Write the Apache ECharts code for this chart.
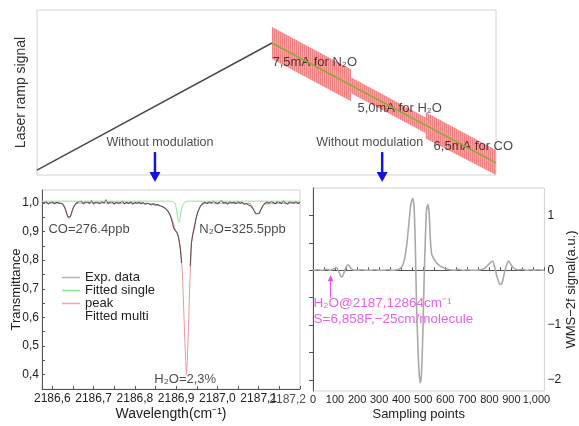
<!DOCTYPE html>
<html>
<head>
<meta charset="utf-8">
<script src="https://cdn.jsdelivr.net/npm/echarts@6/dist/echarts.min.js"></script>
<style>
  html, body { margin: 0; background: #fff; }
  #chart { width: 579px; height: 426px; }
</style>
</head>
<body>
<div id="chart"></div>
<script>
// top panel: laser current ramp (sample index vs. arbitrary level)
const rampSamples = [0, 512]
const rampLevels = [0.03, 0.8]
const biasSamples = [512, 1000]
const biasLevels = [0.8, 0.073]
const modStart = [512, 684, 847]
const modEnd = [684, 847, 1000]
const modDepth = [0.097, 0.048, 0.079]
const modLabels = ['7,5mA for N₂O', '5,0mA for H₂O', '6,5mA for CO']
const modLabelAt = [[512, 0.685], [697, 0.406], [863, 0.176]]
const freeLabelAt = [[268, 0.194], [725, 0.194]]
const freeArrowAt = [257, 752]

// bottom left: transmittance spectrum
const wlTicks = [2186.6, 2186.7, 2186.8, 2186.9, 2187.0, 2187.1, 2187.2]
const transTicks = [0.4, 0.5, 0.6, 0.7, 0.8, 0.9, 1.0]
const expData = [
  [2186.575,1.003],[2186.58,0.998],[2186.585,1.005],[2186.59,0.996],[2186.595,1.001],
  [2186.6,1.004],[2186.605,0.997],[2186.61,1.002],[2186.615,1.0],[2186.62,0.999],
  [2186.625,0.996],[2186.63,0.984],[2186.634,0.966],[2186.638,0.95],[2186.641,0.944],
  [2186.644,0.953],[2186.648,0.972],[2186.652,0.988],[2186.657,0.997],[2186.662,1.003],
  [2186.665,0.999],[2186.67,1.006],[2186.675,0.997],[2186.68,1.002],[2186.685,1.004],
  [2186.69,0.998],[2186.695,1.008],[2186.7,0.996],[2186.705,1.003],[2186.71,1.001],
  [2186.715,0.997],[2186.72,1.005],[2186.725,0.999],[2186.73,1.011],[2186.735,0.998],
  [2186.74,1.002],[2186.745,1.004],[2186.75,0.996],[2186.755,1.003],[2186.76,0.999],
  [2186.765,1.001],[2186.77,1.006],[2186.775,0.997],[2186.78,1.002],[2186.785,0.998],
  [2186.79,1.004],[2186.795,0.996],[2186.8,1.002],[2186.805,0.999],[2186.81,1.003],
  [2186.815,0.997],[2186.82,1.001],[2186.825,0.995],[2186.83,0.999],[2186.835,0.996],
  [2186.84,0.993],[2186.845,0.997],[2186.85,0.992],[2186.855,0.994],[2186.86,0.99],
  [2186.865,0.988],[2186.87,0.984],[2186.875,0.979],[2186.88,0.971],[2186.885,0.958],
  [2186.89,0.936],[2186.894,0.912],[2186.898,0.903],[2186.902,0.896],[2186.906,0.88],
  [2186.91,0.84],[2186.913,0.79],
  [2186.925,null],
  [2186.934,0.78],[2186.937,0.86],[2186.94,0.888],[2186.943,0.905],[2186.948,0.944],[2186.953,0.971],
  [2186.958,0.987],[2186.963,0.996],[2186.968,1.002],
  [2186.975,0.998],[2186.98,1.004],[2186.985,0.999],[2186.99,1.006],[2186.995,1.001],
  [2187.0,0.997],[2187.005,1.003],[2187.01,1.008],[2187.015,0.999],[2187.02,1.002],
  [2187.025,0.996],[2187.03,1.004],[2187.035,1.0],[2187.04,1.003],[2187.045,0.997],
  [2187.05,1.005],[2187.055,0.999],[2187.06,1.002],[2187.065,0.995],[2187.07,0.998],
  [2187.075,0.993],[2187.08,0.99],
  [2187.085,0.982],[2187.089,0.972],[2187.093,0.962],[2187.097,0.957],[2187.101,0.963],
  [2187.105,0.976],[2187.11,0.99],[2187.115,0.998],
  [2187.12,1.003],[2187.125,0.999],[2187.13,1.005],[2187.135,1.001],[2187.14,0.997],
  [2187.145,1.004],[2187.15,1.002],[2187.155,0.998],[2187.16,1.007],[2187.165,1.0],
  [2187.17,0.996],[2187.175,1.004],[2187.18,1.001],[2187.185,0.999],[2187.19,1.005],
  [2187.195,0.997],[2187.2,1.002]
]
const singleFit = [
  [2186.575,1.006],[2186.885,1.006],[2186.895,1.002],[2186.899,0.99],[2186.902,0.965],
  [2186.905,0.94],[2186.907,0.932],[2186.909,0.942],[2186.912,0.97],[2186.916,0.992],
  [2186.922,1.003],[2186.93,1.006],[2187.2,1.006]
]
const multiFit = [
  [2186.575,1.0],[2186.625,0.998],[2186.632,0.98],[2186.637,0.955],[2186.641,0.945],
  [2186.645,0.955],[2186.65,0.98],[2186.657,0.998],[2186.67,1.0],[2186.84,0.998],
  [2186.86,0.992],[2186.875,0.98],[2186.885,0.962],[2186.892,0.935],[2186.898,0.905],
  [2186.904,0.89],[2186.91,0.845],[2186.912,0.82],[2186.915,0.76],[2186.917,0.68],
  [2186.919,0.6],[2186.921,0.52],[2186.923,0.45],[2186.925,0.4],[2186.927,0.45],
  [2186.929,0.53],[2186.931,0.62],[2186.933,0.72],[2186.935,0.78],[2186.937,0.86],
  [2186.941,0.9],[2186.946,0.935],[2186.952,0.968],[2186.96,0.99],[2186.97,0.999],
  [2187.08,0.998],[2187.088,0.975],[2187.093,0.963],[2187.097,0.958],[2187.101,0.964],
  [2187.106,0.978],[2187.113,0.996],[2187.2,1.0]
]
const specNotes = [[2186.5895, 0.909, 'CO=276.4ppb'], [2186.955, 0.909, 'N₂O=325.5ppb'], [2186.846, 0.383, 'H₂O=2,3%']]

// bottom right: WMS-2f signal
const sampleTicks = [0, 100, 200, 300, 400, 500, 600, 700, 800, 900, 1000]
const wmsTicks = [-2, -1, 0, 1]
const wmsData = [
  [0,0.0],[20,0.01],[40,0.0],[60,0.02],[80,0.0],[95,0.03],[105,0.05],[115,0.0],[125,-0.1],
  [132,-0.12],[140,-0.05],[150,0.06],[160,0.1],[170,0.05],[180,0.01],[200,0.0],[220,0.01],
  [240,0.0],[260,0.0],[280,0.01],[300,0.0],[320,0.0],[340,0.01],[360,0.0],[380,0.01],
  [395,0.03],[405,0.08],[415,0.2],[425,0.45],[435,0.85],[444,1.2],[452,1.31],[458,1.2],
  [464,0.5],[469,-0.5],[476,-1.4],[482,-1.9],[487,-2.05],[492,-1.9],[498,-1.2],[504,-0.2],
  [510,0.6],[515,1.1],[521,1.2],[527,1.05],[532,0.6],[538,0.3],[547,0.22],[557,0.15],
  [570,0.1],[590,0.05],[610,0.02],[640,0.0],[660,0.02],[680,0.0],[700,0.01],[720,0.0],
  [740,0.0],[760,0.01],[780,0.04],[800,0.12],[815,0.17],[825,0.05],[835,-0.12],[845,-0.24],
  [852,-0.26],[860,-0.2],[870,-0.02],[880,0.12],[888,0.17],[898,0.1],[910,0.04],[930,0.01],
  [950,0.02],[970,0.0],[990,0.01],[1000,0.0],[1020,0.01],[1050,0.0]
]
const wmsNotes = [[0, -0.6, 'H₂O@2187,12864cm⁻¹'], [0, -0.89, 'S=6,858F,−25cm/molecule']]
const lineArrow = [80, -0.5, -0.145]

const FONT = '"Liberation Sans", Arial, sans-serif'
const chart = echarts.init(document.getElementById('chart'))

// striped fill for the modulated part of the ramp
const pc = document.createElement('canvas')
pc.width = 2; pc.height = 4
const pctx = pc.getContext('2d')
pctx.fillStyle = '#f5a2a2'; pctx.fillRect(0, 0, 2, 4)
pctx.fillStyle = '#ec7a7a'; pctx.fillRect(0, 0, 1, 4)
const stripe = { image: pc, repeat: 'repeat' }

function biasAt(x) {
  const t = (x - biasSamples[0]) / (biasSamples[1] - biasSamples[0])
  return biasLevels[0] + (biasLevels[1] - biasLevels[0]) * t
}

const comma1 = v => v.toFixed(1).replace('.', ',')
const range = (a, b, s) => { const r = []; for (let v = a; v <= b + s / 2; v += s) r.push(+v.toFixed(3)); return r }

const noteLabel = (size, color) => ({
  show: true, position: 'right', distance: 0, formatter: p => p.value[2],
  fontSize: size, color: color, fontFamily: FONT
})

const lastWl = wlTicks[wlTicks.length - 1]

const option = {
  animation: false,
  textStyle: { fontFamily: FONT, color: '#222' },
  grid: [
    { left: 37, top: 10, width: 459, height: 165, show: true, borderColor: '#d2d2d2', borderWidth: 1 },
    { left: 42, top: 190, width: 258, height: 199, show: true, borderColor: '#d2d2d2', borderWidth: 1 },
    { left: 313, top: 188, width: 237, height: 203, show: true, borderColor: '#d2d2d2', borderWidth: 1 }
  ],
  xAxis: [
    { gridIndex: 0, type: 'value', min: 0, max: 1000, show: false },
    {
      gridIndex: 1, type: 'value', min: 2186.575, max: 2187.2,
      axisLine: { lineStyle: { color: '#555' } },
      axisTick: { inside: true, length: 3, customValues: range(2186.6, 2187.2, 0.05), lineStyle: { color: '#555' } },
      axisLabel: { customValues: wlTicks.slice(0, -1), formatter: comma1, fontSize: 12, color: '#222', margin: 4 },
      splitLine: { show: false },
      name: 'Wavelength(cm⁻¹)', nameLocation: 'middle', nameGap: 18, nameMoveOverlap: false,
      nameTextStyle: { fontSize: 14, color: '#222' }
    },
    {
      gridIndex: 2, type: 'value', min: 0, max: 1050,
      axisLine: { lineStyle: { color: '#555' } },
      axisTick: { inside: true, length: 3, customValues: range(0, 1050, 50), lineStyle: { color: '#555' } },
      axisLabel: {
        customValues: sampleTicks, fontSize: 11, color: '#222', margin: 3,
        showMinLabel: true, showMaxLabel: true,
        formatter: v => v === 1000 ? '{last|1,000}' : String(v),
        rich: { last: { fontSize: 11, color: '#222', padding: [0, 0, 0, 6] } }
      },
      splitLine: { show: false },
      name: 'Sampling points', nameLocation: 'middle', nameGap: 17, nameMoveOverlap: false,
      nameTextStyle: { fontSize: 13, color: '#222', padding: [0, 20, 0, 0] }
    }
  ],
  yAxis: [
    {
      gridIndex: 0, type: 'value', min: 0, max: 1,
      axisLine: { show: false }, axisTick: { show: false }, axisLabel: { show: false }, splitLine: { show: false },
      name: 'Laser ramp signal', nameLocation: 'middle', nameGap: 9, nameRotate: 90, nameMoveOverlap: false,
      nameTextStyle: { fontSize: 14, color: '#333' }
    },
    {
      gridIndex: 1, type: 'value', min: 0.35, max: 1.045,
      axisLine: { show: true, lineStyle: { color: '#555' } },
      axisTick: { show: true, inside: true, length: 3, customValues: range(0.4, 1.0, 0.05), lineStyle: { color: '#555' } },
      axisLabel: { customValues: transTicks, formatter: comma1, fontSize: 12, color: '#222', margin: 3 },
      splitLine: { show: false },
      name: 'Transmittance', nameLocation: 'middle', nameGap: 19, nameRotate: 90, nameMoveOverlap: false,
      nameTextStyle: { fontSize: 13, color: '#222' }
    },
    {
      gridIndex: 2, type: 'value', min: -2.2, max: 1.5, position: 'right',
      axisLine: { show: true, lineStyle: { color: '#555' } },
      axisTick: { show: true, inside: true, length: 4, customValues: [-2, -1.5, -1, -0.5, 0, 0.5, 1], lineStyle: { color: '#555' } },
      axisLabel: { customValues: wmsTicks, formatter: v => v < 0 ? '−' + Math.abs(v) : String(v), fontSize: 12, color: '#222', margin: 3 },
      splitLine: { show: false },
      name: 'WMS−2f signal(a.u.)', nameLocation: 'middle', nameGap: 16, nameRotate: 90,
      nameTextStyle: { fontSize: 13, color: '#222' }
    }
  ],
  legend: {
    data: [
      { name: 'Exp. data', itemStyle: { color: '#b3b3b3' } },
      { name: 'Fitted single', itemStyle: { color: '#8ee68e' } },
      { name: 'peak', itemStyle: { color: '#eda5a5' } },
      { name: 'Fitted multi', icon: 'none', itemStyle: { color: 'transparent' } }
    ],
    orient: 'vertical', left: 62, top: 271, icon: 'rect', itemWidth: 18, itemHeight: 1.5, itemGap: 0,
    padding: 0, selectedMode: false,
    textStyle: { fontSize: 13, lineHeight: 13, color: '#222', fontFamily: FONT }
  },
  series: [
    {
      type: 'custom', xAxisIndex: 0, yAxisIndex: 0, silent: true,
      data: modStart.map((s, i) => [s, modEnd[i], modDepth[i]]),
      renderItem: (params, api) => {
        const x0 = api.value(0), x1 = api.value(1), a = api.value(2)
        const pts = [[x0, biasAt(x0) + a], [x1, biasAt(x1) + a], [x1, biasAt(x1) - a], [x0, biasAt(x0) - a]]
          .map(p => api.coord(p))
        return {
          type: 'polygon',
          shape: { points: echarts.graphic.clipPointsByRect(pts, params.coordSys) },
          style: { fill: stripe, opacity: 0.95 }
        }
      }
    },
    {
      type: 'line', xAxisIndex: 0, yAxisIndex: 0, symbol: 'none', silent: true,
      data: rampSamples.map((s, i) => [s, rampLevels[i]]),
      lineStyle: { color: '#4a4a4a', width: 1.5 }
    },
    {
      type: 'line', xAxisIndex: 0, yAxisIndex: 0, symbol: 'none', silent: true,
      data: biasSamples.map((s, i) => [s, biasLevels[i]]),
      lineStyle: { color: '#8aab3a', width: 1.5 }
    },
    {
      type: 'scatter', xAxisIndex: 0, yAxisIndex: 0, symbolSize: 1, silent: true,
      itemStyle: { color: 'transparent' },
      data: modLabelAt.map((p, i) => [p[0], p[1], modLabels[i]]),
      label: noteLabel(13, '#1a1a1a')
    },
    {
      type: 'scatter', xAxisIndex: 0, yAxisIndex: 0, symbolSize: 1, silent: true,
      itemStyle: { color: 'transparent' },
      data: freeLabelAt.map(p => [p[0], p[1], 'Without modulation']),
      label: { show: true, position: 'inside', formatter: p => p.value[2], fontSize: 12.5, color: '#1a1a1a', fontFamily: FONT }
    },
    {
      name: 'peak', type: 'line', xAxisIndex: 1, yAxisIndex: 1, symbol: 'none', silent: true,
      data: multiFit, lineStyle: { color: '#e79a9a', width: 1 }, itemStyle: { color: '#e79a9a' }
    },
    {
      name: 'Exp. data', type: 'line', xAxisIndex: 1, yAxisIndex: 1, symbol: 'none', silent: true,
      connectNulls: false,
      data: expData, lineStyle: { color: '#5c5553', width: 1.1 }, itemStyle: { color: '#5c5553' }
    },
    {
      name: 'Fitted single', type: 'line', xAxisIndex: 1, yAxisIndex: 1, symbol: 'none', silent: true,
      smooth: 0.3,
      data: singleFit, lineStyle: { color: '#8ee68e', width: 1 }, itemStyle: { color: '#8ee68e' }
    },
    { name: 'Fitted multi', type: 'line', xAxisIndex: 1, yAxisIndex: 1, data: [] },
    {
      type: 'scatter', xAxisIndex: 1, yAxisIndex: 1, symbolSize: 1, silent: true,
      itemStyle: { color: 'transparent' },
      data: specNotes, label: noteLabel(13, '#1a1a1a')
    },
    {
      // last wavelength tick label, right-aligned to its tick as in the source figure
      type: 'scatter', xAxisIndex: 1, yAxisIndex: 1, symbolSize: 1, silent: true, clip: false,
      itemStyle: { color: 'transparent' },
      data: [[lastWl, 0.35, comma1(lastWl)]],
      label: { show: true, position: 'bottom', distance: 4, align: 'right', offset: [6, 0], formatter: p => p.value[2], fontSize: 12, color: '#222', fontFamily: FONT }
    },
    {
      type: 'line', xAxisIndex: 2, yAxisIndex: 2, symbol: 'none', silent: true, smooth: 0.2,
      data: wmsData, lineStyle: { color: '#a9a9a9', width: 1.6 },
      markLine: {
        silent: true, symbol: ['none', 'triangle'], symbolSize: 6,
        label: { show: false },
        lineStyle: { color: '#e650e6', width: 1.2, type: 'solid' },
        data: [[{ coord: [lineArrow[0], lineArrow[1]] }, { coord: [lineArrow[0], lineArrow[2]] }]]
      }
    },
    {
      type: 'scatter', xAxisIndex: 2, yAxisIndex: 2, symbolSize: 1, silent: true,
      itemStyle: { color: 'transparent' },
      data: wmsNotes, label: noteLabel(13.5, '#e23ae2')
    }
  ]
}

chart.setOption(option)

// blue "without modulation" arrows, placed through the top panel's scales
const arrows = []
freeArrowAt.forEach(x => {
  const from = chart.convertToPixel({ gridIndex: 0 }, [x, 0.139])
  const tip = chart.convertToPixel({ gridIndex: 0 }, [x, -0.042])
  arrows.push({
    type: 'line', silent: true,
    shape: { x1: from[0], y1: from[1], x2: tip[0], y2: tip[1] - 8 },
    style: { stroke: '#1414e0', lineWidth: 2.5 }
  })
  arrows.push({
    type: 'polygon', silent: true,
    shape: { points: [[tip[0] - 5.5, tip[1] - 10], [tip[0] + 5.5, tip[1] - 10], [tip[0], tip[1]]] },
    style: { fill: '#1414e0' }
  })
})
chart.setOption({ graphic: arrows })
</script>
</body>
</html>
